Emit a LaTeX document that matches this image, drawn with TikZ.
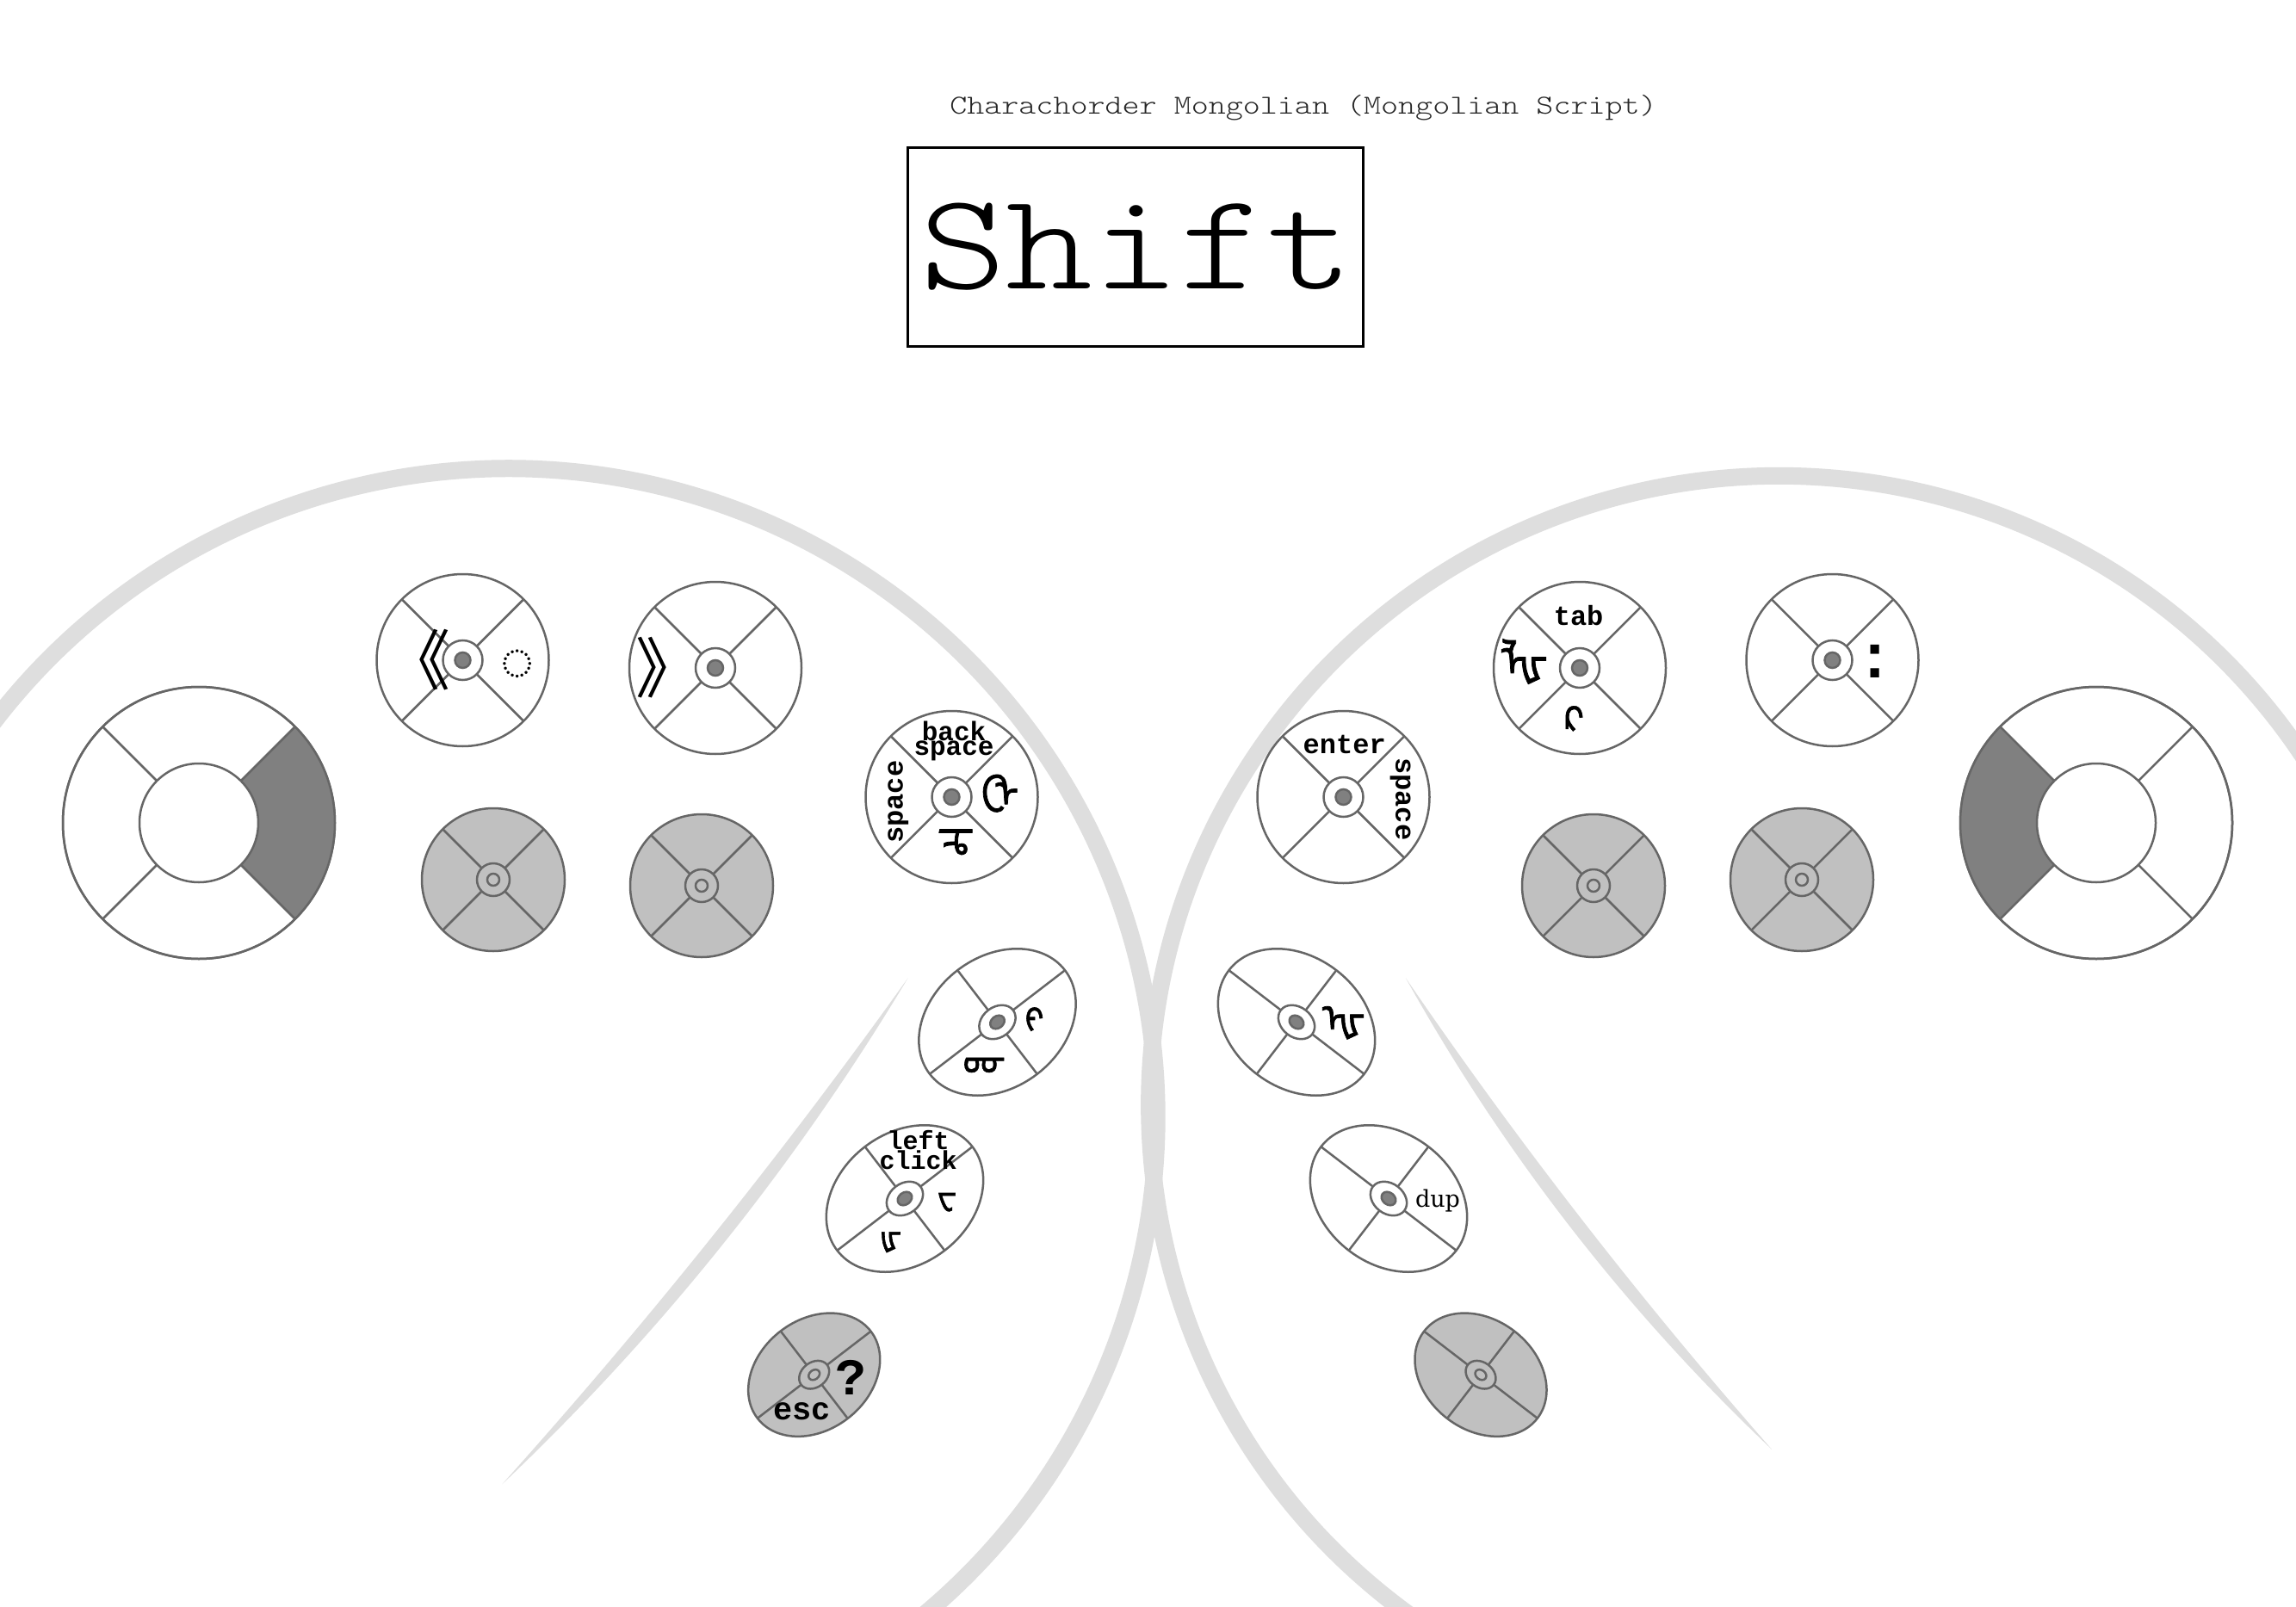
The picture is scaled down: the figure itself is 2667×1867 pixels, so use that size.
\documentclass[tikz,border=0pt]{standalone}
\usepackage{fontspec}
\setmonofont{Liberation Mono}
\IfFontExistsTF{Latin Modern Mono Light}
  {\newfontfamily\typewriter[FakeStretch=1.2]{Latin Modern Mono Light}}
  {\newfontfamily\typewriter{Liberation Mono}}
\newfontfamily\mongfont[Script=Mongolian, FakeBold=1.5]{Noto Sans Mongolian}
\newfontfamily\cjkfont{Noto Sans CJK SC}
\newfontfamily\symfont{Noto Sans}
\newfontfamily\dupfont{DejaVu Serif}
\definecolor{kgray}{RGB}{102,102,102}
\definecolor{kshade}{RGB}{192,192,192}
\definecolor{kdark}{RGB}{128,128,128}
\definecolor{bgarc}{RGB}{222,222,222}
\tikzset{
  keystroke/.style={draw=kgray, line width=2.5pt},
  lbl/.style={inner sep=0pt, font=\ttfamily\bfseries\fontsize{32}{32}\selectfont},
  mong/.style={inner sep=0pt, font=\mongfont\fontsize{#1}{#1}\selectfont},
  pics/ckey/.style={code={
    \draw[keystroke, fill=white] (0,0) circle[radius=100];
    \foreach \a in {45,135,225,315} {\draw[keystroke] (\a:23) -- (\a:100);}
    \draw[keystroke, fill=white] (0,0) circle[radius=23];
    \draw[keystroke, fill=kdark] (0,0) circle[radius=9];
  }},
  pics/skey/.style={code={
    \draw[keystroke, fill=kshade] (0,0) circle[radius=83];
    \foreach \a in {45,135,225,315} {\draw[keystroke] (\a:19) -- (\a:83);}
    \draw[keystroke, fill=kshade] (0,0) circle[radius=19];
    \draw[keystroke] (0,0) circle[radius=7];
  }},
  pics/ekey/.style={code={
    \draw[keystroke, fill=white] (0,0) ellipse[x radius=99, y radius=76];
    \draw[keystroke] (23,0) -- (99,0) (-23,0) -- (-99,0) (0,17.5) -- (0,76) (0,-17.5) -- (0,-76);
    \draw[keystroke, fill=white] (0,0) ellipse[x radius=23, y radius=17.5];
    \draw[keystroke, fill=kdark] (0,0) ellipse[x radius=9, y radius=7];
  }},
  pics/eskey/.style={code={
    \draw[keystroke, fill=kshade] (0,0) ellipse[x radius=83, y radius=64];
    \draw[keystroke] (19,0) -- (83,0) (-19,0) -- (-83,0) (0,14.5) -- (0,64) (0,-14.5) -- (0,-64);
    \draw[keystroke, fill=kshade] (0,0) ellipse[x radius=19, y radius=14.5];
    \draw[keystroke] (0,0) ellipse[x radius=7, y radius=5.4];
  }},
  pics/bigkey/.style={code={
    \draw[keystroke, fill=white] (0,0) circle[radius=158];
    \fill[kdark] (#1-45:158) arc[start angle=#1-45, end angle=#1+45, radius=158]
      -- (#1+45:69) arc[start angle=#1+45, end angle=#1-45, radius=69] -- cycle;
    \draw[keystroke] (0,0) circle[radius=158];
    \foreach \a in {45,135,225,315} {\draw[keystroke] (\a:69) -- (\a:158);}
    \draw[keystroke, fill=white] (0,0) circle[radius=69];
  }}
}
\begin{document}
\begin{tikzpicture}[x=1pt,y=-1pt]
\useasboundingbox (0,0) rectangle (2667,1867);
\fill[white] (0,0) rectangle (2667,1867);

% background arcs and separators
\draw[bgarc, line width=20pt] (590.2,1297.8) ++(215:753.5) arc[start angle=215, end angle=412, radius=753.5];
\draw[bgarc, line width=20pt] (2066.6,1284.2) ++(125:731.4) arc[start angle=125, end angle=328, radius=731.4];
\fill[bgarc] (1054.6,1136.3) .. controls (908.4,1341.1) and (751.4,1536.9) .. (583.4,1724.2)
  .. controls (767.2,1549.6) and (924.2,1353.7) .. (1054.6,1136.3) -- cycle;
\fill[bgarc] (1632.9,1136.3) .. controls (1763.5,1327.4) and (1905.3,1510.0) .. (2058.1,1683.9)
  .. controls (1888.6,1523.0) and (1746.8,1340.4) .. (1632.9,1136.3) -- cycle;

% title and layer name
\node[anchor=base, inner sep=0pt, text=black!85, font=\typewriter\fontsize{31.8}{31.8}\selectfont] (title) at (1514,133) {Charachorder Mongolian (Mongolian Script)};
\node[draw=black, line width=3pt, minimum width=529pt, minimum height=231pt, inner sep=0pt] (layerbox) at (1319,287.5) {};
\node[anchor=base, inner sep=0pt, font=\typewriter\fontsize{160}{160}\selectfont] (layer) at (1320,336) {Shift};

% left hand keys
\pic at (231,956) {bigkey=0};
\pic at (537.5,767) {ckey};
\pic at (831,776) {ckey};
\pic at (573,1022) {skey};
\pic at (815,1029) {skey};
\pic at (1105.5,926) {ckey};
\pic[rotate=37.5] at (1158.5,1187.5) {ekey};
\pic[rotate=37.5] at (1051,1392.5) {ekey};
\pic[rotate=37.5] at (945.7,1597.2) {eskey};

% right hand keys
\pic at (2435,956) {bigkey=180};
\pic at (2128.5,767) {ckey};
\pic at (1835,776) {ckey};
\pic at (2093,1022) {skey};
\pic at (1851,1029) {skey};
\pic at (1560.5,926) {ckey};
\pic[rotate=-37.5] at (1506,1187.5) {ekey};
\pic[rotate=-37.5] at (1613,1392.5) {ekey};
\pic[rotate=-37.5] at (1720,1597.2) {eskey};

% labels left
\node[inner sep=0pt, font=\cjkfont\fontsize{76}{76}\selectfont] (lquote) at (485,767) {《};
\node[inner sep=0pt, font=\symfont\fontsize{66}{66}\selectfont] (dotted) at (600.8,772.3) {◌};
\node[inner sep=0pt, font=\cjkfont\fontsize{76}{76}\selectfont] (rquote) at (776,776) {》};
\node[lbl, align=center, font=\ttfamily\bfseries\fontsize{31}{17}\selectfont] (bksp) at (1108,861) {back\\space};
\node[lbl, rotate=90] (spaceL) at (1043.3,931.7) {space};
\node[mong=48] (zra) at (1161.7,921.7) {\char"183F};
\node[mong=48] (tsa) at (1110,978.3) {\char"183C};
\node[mong=40] (kha) at (1201.7,1185) {\char"183B};
\node[mong=42] (chi) at (1143.3,1238.3) {\char"1842};
\node[lbl, align=center, font=\ttfamily\bfseries\fontsize{30}{20}\selectfont] (lclick) at (1066.7,1336) {left\\click};
\node[mong=38] (wa) at (1100,1396.7) {\char"1838};
\node[mong=38] (zhi) at (1035,1443.3) {\char"1841};
\node[inner sep=0pt, font=\ttfamily\bfseries\fontsize{60}{60}\selectfont] (quest) at (988.3,1600) {?};
\node[inner sep=0pt, font=\ttfamily\bfseries\fontsize{37}{37}\selectfont] (esc) at (931.7,1640) {esc};

% labels right
\node[lbl] (enter) at (1561.7,865) {enter};
\node[lbl, rotate=-90] (spaceR) at (1626.7,928.3) {space};
\node[lbl] (tab) at (1833.6,715) {tab};
\node[mong=50] (lha) at (1770,768.5) {\char"1840};
\node[mong=42] (ka) at (1828.5,835.6) {\char"183A};
\node[inner sep=0pt, font=\ttfamily\bfseries\fontsize{72}{72}\selectfont] (colon) at (2178,768.5) {:};
\node[mong=46] (haa) at (1560,1188.3) {\char"183E};
\node[inner sep=0pt, font=\dupfont\fontsize{27}{27}\selectfont] (dup) at (1670,1395) {dup};
\end{tikzpicture}
\end{document}
